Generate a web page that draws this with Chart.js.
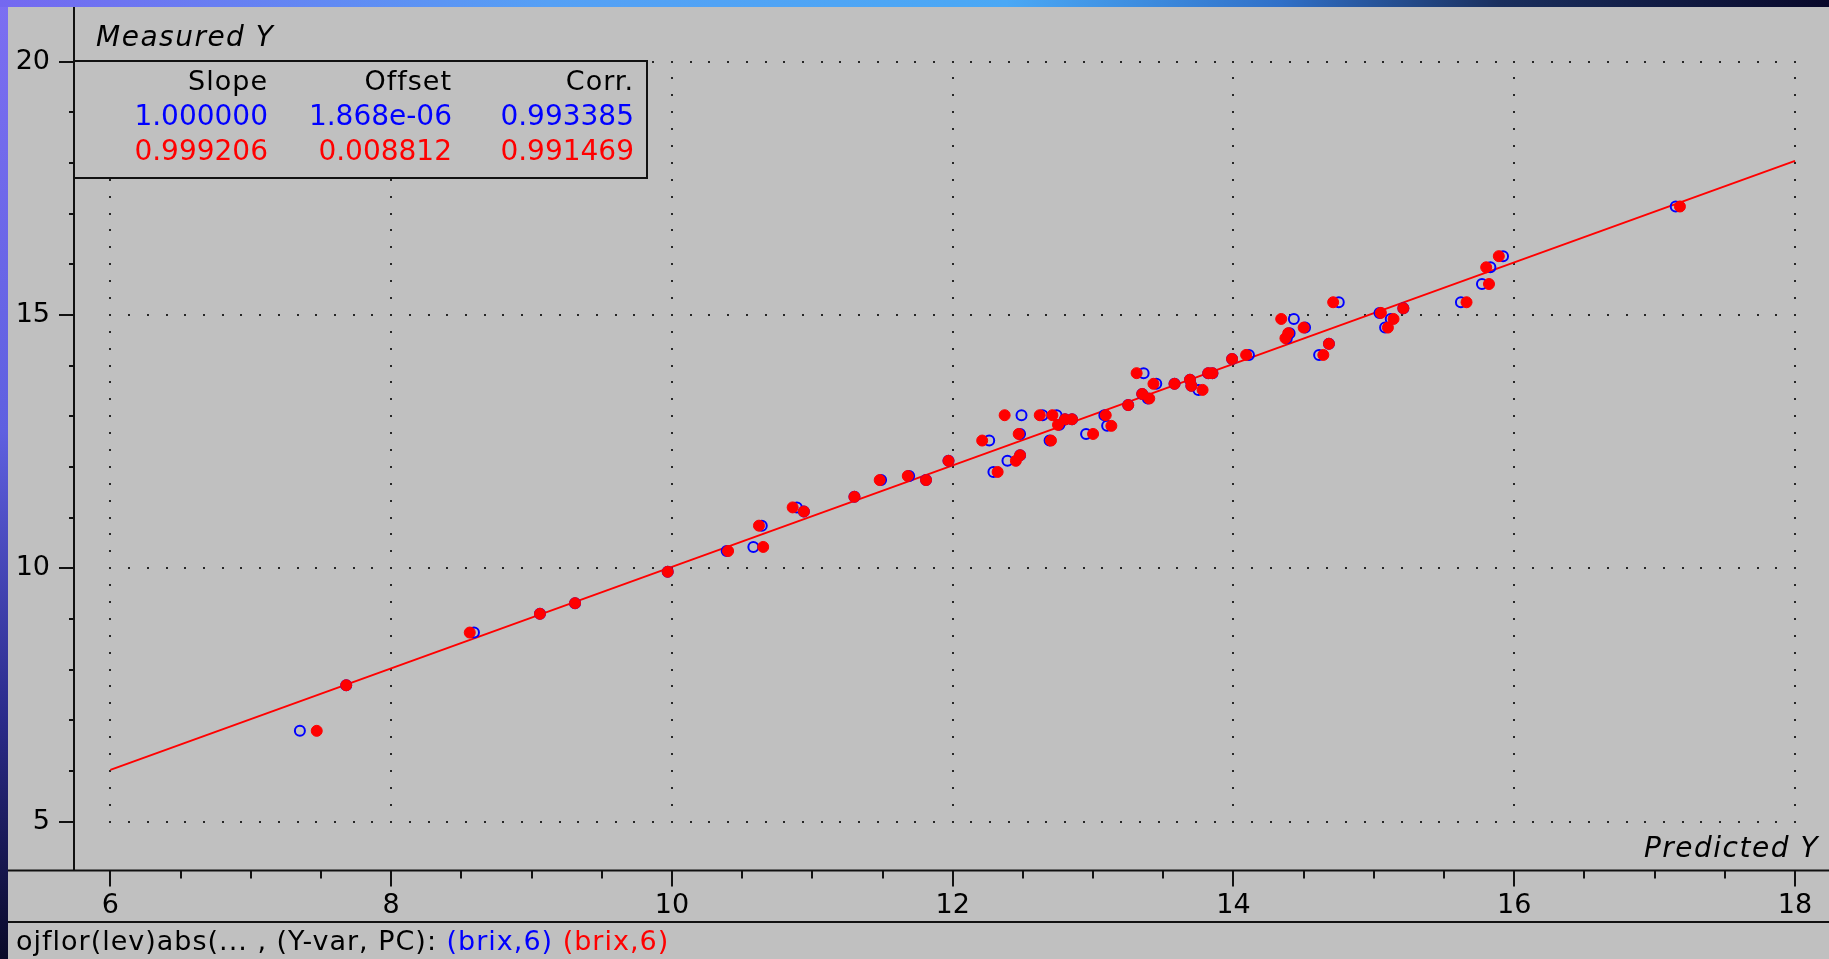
<!DOCTYPE html>
<html>
<head>
<meta charset="utf-8">
<title>Measured Y vs Predicted Y</title>
<script src="https://cdn.jsdelivr.net/npm/chart.js@4.4.0/dist/chart.umd.min.js"></script>
<style>
  html, body { margin: 0; padding: 0; background: #0a0a25; overflow: hidden; }
  #wrap { width: 1829px; height: 959px; }
</style>
</head>
<body>
<div id="wrap"><canvas id="plsChart" width="1829" height="959"></canvas></div>
<script>
// measured brix of every sample (same for both series)
const measuredY = [
  6.79, 7.69, 8.73, 9.10, 9.31, 9.93, 10.34, 10.42, 10.84, 11.20,
  11.12, 11.41, 11.74, 11.82, 11.74, 12.12, 12.52, 11.90, 12.12, 12.23,
  12.65, 13.02, 13.02, 13.02, 12.52, 12.83, 12.94, 12.94, 12.65, 13.02,
  12.81, 13.22, 13.44, 13.35, 13.64, 13.85, 13.64, 13.72, 13.60, 13.52,
  13.85, 13.85, 14.13, 14.21, 14.92, 15.25, 14.75, 14.64, 14.54, 14.43,
  14.21, 15.04, 15.13, 14.92, 14.75, 15.25, 15.61, 15.94, 16.16, 17.14
];
// predicted, calibration (blue open circles)
const predCalib = [
  7.35, 7.68, 8.59, 9.06, 9.31, 9.97, 10.39, 10.58, 10.64, 10.89,
  10.94, 11.30, 11.49, 11.69, 11.81, 11.97, 12.26, 12.29, 12.39, 12.48,
  12.48, 12.49, 12.64, 12.74, 12.69, 12.76, 12.80, 12.85, 12.95, 13.08,
  13.10, 13.25, 13.35, 13.39, 13.45, 13.36, 13.58, 13.69, 13.70, 13.75,
  13.82, 13.85, 13.99, 14.11, 14.43, 14.75, 14.51, 14.40, 14.38, 14.68,
  14.61, 15.04, 15.21, 15.12, 15.08, 15.62, 15.77, 15.83, 15.92, 17.15
];
// predicted, validation (red dots)
const predValid = [
  7.47, 7.68, 8.56, 9.06, 9.31, 9.97, 10.40, 10.65, 10.62, 10.86,
  10.94, 11.30, 11.48, 11.68, 11.81, 11.97, 12.21, 12.32, 12.45, 12.48,
  12.47, 12.37, 12.62, 12.71, 12.70, 12.75, 12.80, 12.85, 13.00, 13.09,
  13.13, 13.25, 13.35, 13.40, 13.43, 13.31, 13.58, 13.69, 13.70, 13.78,
  13.82, 13.85, 13.99, 14.09, 14.34, 14.71, 14.50, 14.39, 14.37, 14.68,
  14.64, 15.05, 15.21, 15.14, 15.10, 15.66, 15.82, 15.80, 15.89, 17.18
];
// regression line
const fitX = [6, 18];
const fitY = [6.02, 18.04];

const xMajorTicks = [6, 8, 10, 12, 14, 16, 18];
const yMajorTicks = [5, 10, 15, 20];

const statHeader = ["Slope", "Offset", "Corr."];
const statCalib = ["1.000000", "1.868e-06", "0.993385"];
const statValid = ["0.999206", "0.008812", "0.991469"];

const xTitle = "Predicted Y";
const yTitle = "Measured Y";
const footerParts = ["ojflor(lev)abs(... , (Y-var, PC): ", "(brix,6)", " ", "(brix,6)"];

const BLUE = "#0000ff";
const RED = "#ff0000";
const FONT = "DejaVu Sans";

function toPoints(xs, ys) {
  return xs.map((v, i) => ({ x: v, y: ys[i] }));
}

// фон вікна і сіра панель
const panelBackground = {
  id: "panelBackground",
  beforeDraw(chart) {
    const { ctx, width, height } = chart;
    ctx.save();
    const side = ctx.createLinearGradient(0, 0, 0, height);
    side.addColorStop(0, "#7c6ff2");
    side.addColorStop(0.45, "#5f60e0");
    side.addColorStop(0.75, "#2a2a8a");
    side.addColorStop(1, "#0a0a28");
    ctx.fillStyle = side;
    ctx.fillRect(0, 0, 8, height);
    const top = ctx.createLinearGradient(0, 0, width, 0);
    top.addColorStop(0, "#7468f0");
    top.addColorStop(0.3, "#55a0f5");
    top.addColorStop(0.55, "#4aa8f5");
    top.addColorStop(0.7, "#3070c8");
    top.addColorStop(0.82, "#1a2f5e");
    top.addColorStop(1, "#08082a");
    ctx.fillStyle = top;
    ctx.fillRect(0, 0, width, 7);
    ctx.fillStyle = "#c0c0c0";
    ctx.fillRect(8, 7, width - 8, height - 7);
    ctx.restore();
  },
};

// точкова сітка між основними поділками
const dottedGrid = {
  id: "dottedGrid",
  beforeDatasetsDraw(chart) {
    const { ctx } = chart;
    const xs = chart.scales.x;
    const ys = chart.scales.y;
    const xa = xs.getPixelForValue(xMajorTicks[0]);
    const xb = xs.getPixelForValue(xMajorTicks[xMajorTicks.length - 1]);
    const ya = ys.getPixelForValue(yMajorTicks[yMajorTicks.length - 1]);
    const yb = ys.getPixelForValue(yMajorTicks[0]);
    ctx.save();
    ctx.fillStyle = "#262626";
    const nv = 15 * (yMajorTicks.length - 1);
    xMajorTicks.forEach((v) => {
      const px = xs.getPixelForValue(v);
      for (let i = 0; i <= nv; i++) {
        const py = ya + ((yb - ya) * i) / nv;
        ctx.fillRect(Math.round(px) - 1, Math.round(py) - 1, 2, 2);
      }
    });
    const nh = 15 * (xMajorTicks.length - 1);
    yMajorTicks.forEach((v) => {
      const py = ys.getPixelForValue(v);
      for (let i = 0; i <= nh; i++) {
        const px = xa + ((xb - xa) * i) / nh;
        ctx.fillRect(Math.round(px) - 1, Math.round(py) - 1, 2, 2);
      }
    });
    ctx.restore();
  },
};

// осі, поділки, таблиця статистики, підписи
const frameAndText = {
  id: "frameAndText",
  afterDatasetsDraw(chart) {
    const { ctx, chartArea, width } = chart;
    const xs = chart.scales.x;
    const ys = chart.scales.y;
    const left = chartArea.left;
    const bottom = chartArea.bottom;
    ctx.save();

    // таблиця
    ctx.fillStyle = "#c0c0c0";
    ctx.fillRect(left, 61, 573, 117);
    ctx.strokeStyle = "#111";
    ctx.lineWidth = 2;
    ctx.strokeRect(left, 61, 573, 117);

    ctx.strokeStyle = "#111";
    ctx.lineWidth = 2;
    ctx.beginPath();
    ctx.moveTo(left, chartArea.top);
    ctx.lineTo(left, bottom);
    ctx.moveTo(8, bottom);
    ctx.lineTo(width, bottom);
    ctx.moveTo(8, 922);
    ctx.lineTo(width, 922);
    ctx.stroke();

    // поділки X
    ctx.lineWidth = 2;
    ctx.beginPath();
    for (let v = xMajorTicks[0]; v <= xMajorTicks[xMajorTicks.length - 1]; v += 0.5) {
      const px = Math.round(xs.getPixelForValue(v));
      const len = xMajorTicks.includes(v) ? 16 : 8;
      ctx.moveTo(px, bottom);
      ctx.lineTo(px, bottom + len);
    }
    // поділки Y
    for (let v = yMajorTicks[0]; v <= yMajorTicks[yMajorTicks.length - 1]; v += 1) {
      const py = Math.round(ys.getPixelForValue(v));
      const len = yMajorTicks.includes(v) ? 15 : 5;
      ctx.moveTo(left - len, py);
      ctx.lineTo(left, py);
    }
    ctx.stroke();

    ctx.letterSpacing = "1px";
    ctx.textBaseline = "alphabetic";
    ctx.font = `27px "${FONT}"`;
    ctx.textAlign = "right";
    const colRight = [268, 452, 634];
    statHeader.forEach((t, i) => {
      ctx.fillStyle = "#000";
      ctx.fillText(t, colRight[i], 90);
    });
    ctx.letterSpacing = "0px";
    ctx.font = `28px "${FONT}"`;
    statCalib.forEach((t, i) => {
      ctx.fillStyle = BLUE;
      ctx.fillText(t, colRight[i], 125);
    });
    statValid.forEach((t, i) => {
      ctx.fillStyle = RED;
      ctx.fillText(t, colRight[i], 160);
    });

    // назви осей
    ctx.letterSpacing = "1.5px";
    ctx.font = `italic 28px "${FONT}"`;
    ctx.fillStyle = "#000";
    ctx.textAlign = "left";
    ctx.fillText(yTitle, 96, 46);
    ctx.textAlign = "right";
    ctx.fillText(xTitle, 1819, 857);

    // рядок унизу
    ctx.letterSpacing = "1px";
    ctx.font = `27px "${FONT}"`;
    ctx.textAlign = "left";
    const partColors = ["#000", BLUE, "#000", RED];
    let fx = 16;
    footerParts.forEach((t, i) => {
      ctx.fillStyle = partColors[i];
      ctx.fillText(t, fx, 950);
      fx += ctx.measureText(t).width;
    });
    ctx.restore();
  },
};

const ctx = document.getElementById("plsChart").getContext("2d");

new Chart(ctx, {
  type: "scatter",
  data: {
    datasets: [
      {
        label: "(brix,6)",
        data: toPoints(predValid, measuredY),
        backgroundColor: RED,
        borderColor: RED,
        borderWidth: 1,
        pointRadius: 5.5,
        order: 0,
      },
      {
        label: "(brix,6) calib",
        data: toPoints(predCalib, measuredY),
        backgroundColor: "rgba(0,0,0,0)",
        borderColor: BLUE,
        borderWidth: 2,
        pointRadius: 5,
        order: 1,
      },
      {
        type: "line",
        label: "fit",
        data: toPoints(fitX, fitY),
        borderColor: RED,
        borderWidth: 2,
        pointRadius: 0,
        tension: 0,
        order: 2,
      },
    ],
  },
  options: {
    responsive: false,
    animation: false,
    devicePixelRatio: 1,
    events: [],
    layout: { padding: { top: 7, left: 0, right: 0, bottom: 0 } },
    plugins: {
      legend: { display: false },
      title: { display: false },
      tooltip: { enabled: false },
    },
    scales: {
      x: {
        type: "linear",
        min: 5.741,
        max: 18.192,
        afterBuildTicks: (s) => {
          s.ticks = xMajorTicks.map((v) => ({ value: v }));
        },
        afterFit: (s) => {
          s.height = 88.5;
          s.paddingLeft = 0;
          s.paddingRight = 0;
        },
        grid: { display: false, drawTicks: false },
        border: { display: false },
        ticks: {
          padding: 19,
          color: "#000",
          font: { family: FONT, size: 27 },
          maxRotation: 0,
          autoSkip: false,
        },
      },
      y: {
        type: "linear",
        min: 4.033,
        max: 21.078,
        afterBuildTicks: (s) => {
          s.ticks = yMajorTicks.map((v) => ({ value: v }));
        },
        afterFit: (s) => {
          s.width = 74;
          s.paddingTop = 0;
          s.paddingBottom = 0;
        },
        grid: { display: false, drawTicks: false },
        border: { display: false },
        ticks: {
          padding: 24,
          color: "#000",
          font: { family: FONT, size: 27 },
          autoSkip: false,
        },
      },
    },
  },
  plugins: [panelBackground, dottedGrid, frameAndText],
});
</script>
</body>
</html>
